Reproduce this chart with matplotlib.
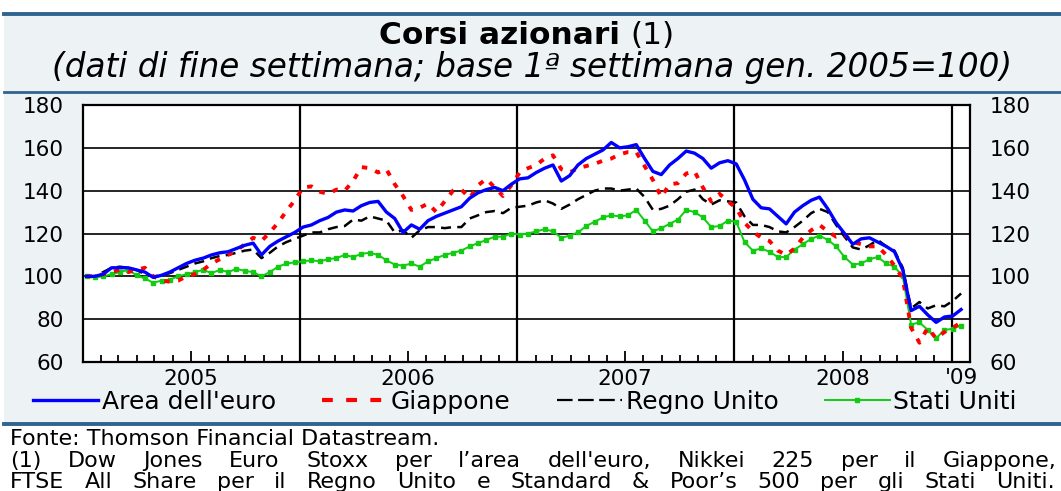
import matplotlib
matplotlib.use("Agg")
import matplotlib.pyplot as plt
import matplotlib.dates as mdates
from matplotlib.lines import Line2D
from matplotlib.patches import Rectangle
import pandas as pd

plt.rcParams['font.family'] = ['DejaVu Sans']

# biweekly end-of-week values, base 1st week Jan 2005 = 100
area_euro = [
    100, 100, 101, 104, 104, 104, 103, 102, 99.5, 100.5, 102, 104, 106, 107.5,
    108.5, 110, 111, 111.5, 113, 114.5, 115.5, 110, 114, 116.5, 118.5, 120.5, 123,
    124, 126, 127.5, 130, 131, 130.5, 133, 134.5, 135, 130, 127, 120.5, 124,
    122, 126, 128, 129.5, 131, 132.5, 136.5, 139, 140.5, 141.5, 140, 143, 145.5,
    146, 148.5, 150.5, 152, 144.5, 147, 152, 155, 157, 159, 162.5, 160, 160.5,
    161.5, 155, 149, 147.5, 152, 155, 158.5, 157.5, 155, 150.5, 153, 154, 152.5,
    145, 136, 132, 131.5, 128, 124.5, 130, 133, 135.5, 137, 131.5, 125, 120,
    115, 117.5, 118, 116, 114, 111.5, 103, 84, 86, 82, 78.5, 81, 81.5, 84.5,
]
giappone = [
    100, 100, 101, 102, 103, 102, 103, 104, 100, 98, 97.5, 98, 100, 101,
    103, 106, 108, 110, 112, 115, 118, 116.5, 120.5, 125, 130.5, 135.5, 141.5,
    142, 139.5, 138.5, 140.5, 140, 144.5, 151, 150.5, 148.5, 150, 143, 137.5, 131,
    132, 134, 130, 135, 140, 140.5, 136.5, 142.5, 145.5, 141.5, 137.5, 142.5, 148.5,
    150.5, 152, 155, 156.5, 150, 148.5, 150.5, 151.5, 152.5, 154, 155, 157, 158,
    158, 151.5, 145, 137, 143, 143.5, 148, 149, 141.5, 135, 138.5, 135, 132,
    125, 121, 118, 116.5, 112, 110, 113, 118, 121.5, 124, 121, 118.5, 119.5,
    116, 115, 114, 114, 110, 105, 99, 76, 69, 76, 71, 74, 76, 78.5,
]
regno_unito = [
    100, 100, 102, 104, 104.5, 104, 103, 101, 100, 100.5, 101.5, 103, 104.5, 106,
    107, 108.5, 109.5, 110, 111, 112, 112.5, 108.5, 111, 114, 116, 117.5, 119,
    120.5, 120.5, 122, 123, 123.5, 126.5, 126, 128, 127, 126, 120.5, 121.5, 118,
    121.5, 123, 123, 122.5, 123, 123, 127, 128.5, 130, 130.5, 129.5, 132, 132.5,
    133, 134.5, 135.5, 134, 131.5, 133.5, 136, 138, 140, 141, 141, 140, 140.5,
    141, 137, 131, 131.5, 133, 136, 139.5, 140.5, 136, 133.5, 135.5, 135, 134.5,
    128, 124, 124, 123, 121, 120.5, 123, 126, 129.5, 131.5, 130, 124, 118.5,
    113.5, 112.5, 114.5, 117, 114, 112, 104, 85, 88, 85, 86.5, 86, 88.5, 92,
]
stati_uniti = [
    100, 99.5, 100, 101, 102, 103, 100.5, 99, 97, 98, 98.5, 100, 101, 102,
    103, 101.5, 103, 102, 103.5, 102.5, 102, 100, 102, 104.5, 106, 106.5, 107,
    107.5, 107, 108, 108.5, 110, 109, 110.5, 111, 110, 107.5, 105.5, 105, 106,
    104.5, 107, 108.5, 110, 111, 112, 114, 115.5, 117, 118.5, 118.5, 120, 119.5,
    120, 121, 122, 121, 118, 119, 120.5, 123.5, 125.5, 127.5, 128.5, 128, 128.5,
    131, 126, 121, 122.5, 124.5, 126.5, 131, 130, 127.5, 123, 123.5, 126, 125.5,
    116, 112, 113, 111.5, 109, 109, 112.5, 115, 117.5, 119, 117, 114, 109,
    105.5, 106, 108, 109, 106, 104.5, 100, 77.5, 78.5, 75, 71, 75, 75.5, 77,
]
dates = pd.date_range('2005-01-07', periods=len(area_euro), freq='14D')

series_labels = ["Area dell'euro", "Giappone", "Regno Unito", "Stati Uniti"]
y_ticks = [60, 80, 100, 120, 140, 160, 180]
year_starts = pd.to_datetime(['2006-01-01', '2007-01-01', '2008-01-01', '2009-01-01'])
year_mids = pd.to_datetime(['2005-07-01', '2006-07-01', '2007-07-01', '2008-07-01'])
year_labels = ['2005', '2006', '2007', '2008']

W, H = 1061, 491
fig = plt.figure(figsize=(W / 100, H / 100), dpi=100)
fig.patch.set_facecolor('white')
renderer = fig.canvas.get_renderer()

# light panel with blue rules
fig.add_artist(Rectangle((0.004, 1 - 424 / H), 0.996, 410 / H, transform=fig.transFigure,
                         facecolor='#edf2f4', edgecolor='none', zorder=0))
for yy, lw in [(14, 2.8), (92, 2.0), (424, 2.8)]:
    fig.add_artist(Line2D([0.004, 1], [1 - yy / H] * 2, transform=fig.transFigure,
                          color='#2f6491', lw=lw))

# title: bold part + normal "(1)", centred together
t1 = fig.text(0, 1 - 35 / H, 'Corsi azionari', ha='left', va='center',
              fontsize=22.5, fontweight='bold')
t2 = fig.text(0, 1 - 35 / H, '(1)', ha='left', va='center', fontsize=22.5)
w1 = t1.get_window_extent(renderer).width
w2 = t2.get_window_extent(renderer).width
x_start = 527 - (w1 + 10 + w2) / 2
t1.set_x(x_start / W)
t2.set_x((x_start + w1 + 10) / W)

fig.text(532 / W, 1 - 68 / H,
         '(dati di fine settimana; base 1ª settimana gen. 2005=100)',
         ha='center', va='center', fontsize=23.5, style='italic')

ax = fig.add_axes([83 / W, 1 - 362 / H, 887 / W, 257 / H])
ax.set_facecolor('white')

ax.plot(dates, area_euro, color='#0000ff', lw=2.4, zorder=5)
ax.plot(dates, giappone, color='#ff0000', lw=2.8, dashes=(1.4, 2.2), zorder=4)
ax.plot(dates, regno_unito, color='black', lw=1.8, dashes=(4, 2.5), zorder=3)
ax.plot(dates, stati_uniti, color='#11cc11', lw=1.4, marker='s', ms=2.2, zorder=2)

ax.set_ylim(60, 180)
ax.set_xlim(pd.Timestamp('2005-01-01'), pd.Timestamp('2009-01-31'))
ax.set_yticks(y_ticks)
ax.yaxis.grid(True, color='black', lw=1.2)
ax.set_axisbelow(True)
for d in year_starts:
    ax.axvline(d, color='black', lw=1.6, zorder=1)
for s in ax.spines.values():
    s.set_linewidth(1.6)

ax.tick_params(axis='y', length=0, labelsize=15.5, labelright=True, pad=14)
ax.xaxis.set_major_locator(matplotlib.ticker.FixedLocator(mdates.date2num(year_mids)))
ax.xaxis.set_major_formatter(matplotlib.ticker.FixedFormatter(year_labels))
ax.xaxis.set_minor_locator(mdates.MonthLocator())
ax.tick_params(axis='x', which='major', direction='in', length=8, width=1.3,
               labelsize=15.5, pad=5)
ax.tick_params(axis='x', which='minor', direction='in', length=5, width=1.3)
ax.text(pd.Timestamp('2009-01-16'), -0.064, "'09", transform=ax.get_xaxis_transform(),
        ha='center', va='center', fontsize=15.5)

handles = [
    Line2D([], [], color='#0000ff', lw=2.4),
    Line2D([], [], color='#ff0000', lw=3, dashes=(2.6, 3.2)),
    Line2D([], [], color='black', lw=1.6, dashes=(7, 2.5)),
    Line2D([], [], color='#11cc11', lw=1.4, marker='s', ms=2.5),
]
fig.legend(handles, series_labels, loc='center left', bbox_to_anchor=(33 / W, 1 - 402 / H),
           ncol=4, frameon=False, fontsize=18, handlelength=2.6, handletextpad=0.15,
           columnspacing=1.85, borderpad=0, borderaxespad=0)


def justify(text, y, x0, x1, **kw):
    words = text.split(' ')
    arts = [fig.text(0, 1 - y / H, w, ha='left', va='center', **kw) for w in words]
    widths = [a.get_window_extent(renderer).width for a in arts]
    gap = (x1 - x0 - sum(widths)) / (len(words) - 1)
    x = x0
    for a, w in zip(arts, widths):
        a.set_x(x / W)
        x += w + gap


fig.text(10 / W, 1 - 439 / H, 'Fonte: Thomson Financial Datastream.',
         ha='left', va='center', fontsize=16)
justify("(1) Dow Jones Euro Stoxx per l\u2019area dell'euro, Nikkei 225 per il Giappone,",
        461, 10, 1057, fontsize=16)
justify("FTSE All Share per il Regno Unito e Standard & Poor\u2019s 500 per gli Stati Uniti.",
        481.5, 10, 1055, fontsize=16)

fig.savefig('out.png', dpi=100)
